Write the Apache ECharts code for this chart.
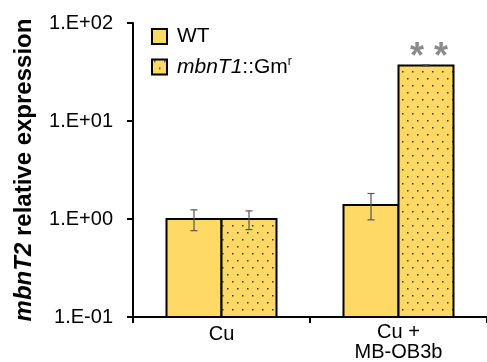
<!DOCTYPE html>
<html>
<head>
<meta charset="utf-8">
<script src="https://cdn.jsdelivr.net/npm/echarts@6/dist/echarts.min.js"></script>
<style>
  html, body { margin: 0; padding: 0; background: #fff; }
  #chart { width: 487px; height: 362px; }
</style>
</head>
<body>
<div id="chart"></div>
<script>
var categories = ['Cu', 'Cu +\nMB-OB3b'];
var wtValues = [1.0, 1.39];
var wtErrLow = [0.76, 0.98];
var wtErrHigh = [1.24, 1.82];
var mutValues = [1.0, 36.8];
var mutErrLow = [0.78, 36.2];
var mutErrHigh = [1.21, 37.5];
var mutSigLabels = ['', '* *'];
var seriesNames = ['WT', 'mbnT1::Gmr'];
var yFloor = 0.1;

(function () {
    var barYellow = '#FFD966';
    var halfBar = 27.5;

    // dotted fill for the mutant bars
    function makeDots() {
        var c = document.createElement('canvas');
        c.width = 10;
        c.height = 14;
        var ctx = c.getContext('2d');
        ctx.fillStyle = barYellow;
        ctx.fillRect(0, 0, 10, 14);
        ctx.fillStyle = '#333';
        ctx.fillRect(2, 1, 1.5, 1.5);
        ctx.fillRect(7, 8, 1.5, 1.5);
        return c;
    }
    var dotFill = { image: makeDots(), repeat: 'repeat' };

    function expLabel(v) {
        var e = Math.round(Math.log10(v));
        var s = Math.abs(e) < 10 ? '0' + Math.abs(e) : '' + Math.abs(e);
        return '{t|1.E' + (e < 0 ? '-' : '+') + s + '}';
    }

    // bars drawn by hand so they start at the bottom of the log axis
    function barSeries(name, values, fill, shift, sig) {
        var data = values.map(function (v, i) { return [i, v]; });
        return {
            type: 'custom',
            name: name,
            data: data,
            z: 2,
            itemStyle: { color: fill, borderColor: '#000', borderWidth: 2 },
            encode: { x: 0, y: 1 },
            renderItem: function (params, api) {
                var idx = api.value(0);
                var top = api.coord([idx, api.value(1)]);
                var bot = api.coord([idx, yFloor]);
                var cx = top[0] + shift;
                var kids = [{
                    type: 'rect',
                    shape: { x: cx - halfBar, y: top[1], width: halfBar * 2, height: bot[1] - top[1] },
                    style: { fill: fill, stroke: '#000', lineWidth: 2 }
                }];
                if (sig && sig[idx]) {
                    kids.push({
                        type: 'text',
                        z2: 10,
                        style: {
                            x: cx + 3,
                            y: top[1] + 11,
                            text: sig[idx],
                            fill: '#8c8c8c',
                            fontSize: 36,
                            fontWeight: 'bold',
                            fontFamily: 'Liberation Sans',
                            align: 'center',
                            verticalAlign: 'bottom'
                        }
                    });
                }
                return { type: 'group', children: kids };
            }
        };
    }

    function errSeries(name, lo, hi, shift) {
        var data = [];
        for (var i = 0; i < categories.length; i++) data.push([i, lo[i], hi[i]]);
        return {
            type: 'custom',
            name: name + '_err',
            data: data,
            z: 5,
            silent: true,
            encode: { x: 0, y: [1, 2] },
            renderItem: function (params, api) {
                var top = api.coord([api.value(0), api.value(2)]);
                var bot = api.coord([api.value(0), api.value(1)]);
                var x = top[0] + shift;
                var cap = 3.5;
                var st = { stroke: '#555', lineWidth: 1.2 };
                return {
                    type: 'group',
                    children: [
                        { type: 'line', shape: { x1: x, y1: top[1], x2: x, y2: bot[1] }, style: st },
                        { type: 'line', shape: { x1: x - cap, y1: top[1], x2: x + cap, y2: top[1] }, style: st },
                        { type: 'line', shape: { x1: x - cap, y1: bot[1], x2: x + cap, y2: bot[1] }, style: st }
                    ]
                };
            }
        };
    }

    var chart = echarts.init(document.getElementById('chart'));
    chart.setOption({
        animation: false,
        textStyle: { fontFamily: 'Liberation Sans' },
        grid: { left: 133, right: 0, top: 23, bottom: 42 },
        legend: {
            orient: 'vertical',
            left: 146,
            top: 21,
            itemWidth: 15,
            itemHeight: 15,
            itemGap: 9,
            icon: 'rect',
            itemStyle: { borderColor: '#000', borderWidth: 2 },
            textStyle: {
                fontSize: 21,
                color: '#000',
                padding: [0, 0, 0, 5],
                rich: {
                    i: { fontSize: 21, fontStyle: 'italic', color: '#000' },
                    n: { fontSize: 21, color: '#000' },
                    sup: { fontSize: 12, color: '#000', verticalAlign: 'top', padding: [0, 0, 10, 0] }
                }
            },
            formatter: function (name) {
                if (name === seriesNames[1]) return '{i|mbnT1}{n|::Gm}{sup|r}';
                return name;
            },
            data: seriesNames
        },
        xAxis: {
            type: 'category',
            data: categories,
            axisLine: { lineStyle: { color: '#000', width: 2 } },
            axisTick: { show: true, length: 6, lineStyle: { color: '#000', width: 2 } },
            axisLabel: {
                color: '#000',
                fontSize: 20,
                margin: 5,
                lineHeight: 20,
                formatter: function (v) {
                    return v === 'Cu' ? '{a|Cu}' : v;
                },
                rich: { a: { fontSize: 20, lineHeight: 20, color: '#000', padding: [5, 0, 0, 0] } }
            }
        },
        yAxis: {
            type: 'log',
            logBase: 10,
            min: 0.1,
            max: 100,
            name: '{i|mbnT2}{b| relative expression}',
            nameLocation: 'middle',
            nameGap: 97,
            nameRotate: 90,
            nameTextStyle: {
                rich: {
                    i: { fontSize: 24, fontWeight: 'bold', fontStyle: 'italic', color: '#000' },
                    b: { fontSize: 24, fontWeight: 'bold', color: '#000' }
                }
            },
            axisLine: { show: true, lineStyle: { color: '#000', width: 2 } },
            axisTick: { show: true, length: 6, lineStyle: { color: '#000', width: 2 } },
            splitLine: { show: false },
            axisLabel: {
                color: '#000',
                fontSize: 20,
                margin: 20,
                formatter: expLabel,
                rich: { t: { fontSize: 20, color: '#000', fontFamily: 'Liberation Sans' } }
            }
        },
        series: [
            barSeries(seriesNames[0], wtValues, barYellow, -halfBar, null),
            barSeries(seriesNames[1], mutValues, dotFill, halfBar, mutSigLabels),
            errSeries('wt', wtErrLow, wtErrHigh, -halfBar),
            errSeries('mut', mutErrLow, mutErrHigh, halfBar)
        ]
    });
})();
</script>
</body>
</html>
